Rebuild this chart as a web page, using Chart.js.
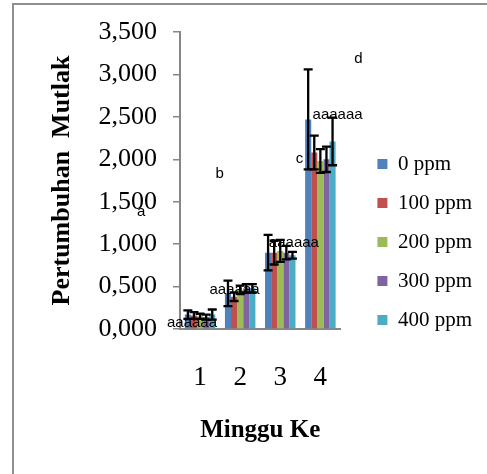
<!DOCTYPE html>
<html>
<head>
<meta charset="utf-8">
<script src="https://cdn.jsdelivr.net/npm/chart.js@4.4.1/dist/chart.umd.min.js"></script>
<style>
    body { margin: 0; background: #fff; }
    .wrap { position: relative; width: 487px; height: 474px; overflow: hidden; }
    .frame { position: absolute; left: 12px; top: 3px; width: 600px; height: 600px; border: 2px solid #8f8f8f; }
    #myChart { position: absolute; left: 0; top: 0; }
</style>
</head>
<body>
<div class="wrap">
    <div class="frame"></div>
    <canvas id="myChart" width="487" height="474"></canvas>
</div>
<script>
const minggu = ['1', '2', '3', '4'];
const seriesNames = ['0 ppm', '100 ppm', '200 ppm', '300 ppm', '400 ppm'];

const ppm0 = [0.17, 0.42, 0.90, 2.47];
const ppm100 = [0.16, 0.38, 0.90, 2.08];
const ppm200 = [0.15, 0.46, 0.92, 1.98];
const ppm300 = [0.14, 0.48, 0.90, 2.00];
const ppm400 = [0.17, 0.48, 0.87, 2.21];

// standard deviation for error bars
const sd0 = [0.05, 0.15, 0.21, 0.59];
const sd100 = [0.04, 0.05, 0.14, 0.20];
const sd200 = [0.03, 0.05, 0.13, 0.14];
const sd300 = [0.03, 0.05, 0.08, 0.15];
const sd400 = [0.06, 0.05, 0.04, 0.28];

const yTicks = [0, 0.5, 1, 1.5, 2, 2.5, 3, 3.5];

// notasi huruf (x = index kategori, y = nilai)
const notes = [
    { x: -1.47, y: 1.38, text: 'a' },
    { x: 0.49, y: 1.83, text: 'b' },
    { x: 2.48, y: 2.01, text: 'c' },
    { x: 3.95, y: 3.18, text: 'd' },
    { x: -0.2, y: 0.07, text: 'aaaaaa' },
    { x: 0.86, y: 0.46, text: 'aaaaaa' },
    { x: 2.34, y: 1.02, text: 'aaaaaa' },
    { x: 3.43, y: 2.52, text: 'aaaaaa' }
];

const values = [ppm0, ppm100, ppm200, ppm300, ppm400];
const errors = [sd0, sd100, sd200, sd300, sd400];
const colors = ['#4F81BD', '#C0504D', '#9BBB59', '#8064A2', '#4BACC6'];

const serif = "'Liberation Serif', 'Times New Roman', serif";

const notesAndErrors = {
    id: 'notesAndErrors',
    afterDatasetsDraw(chart) {
        const c = chart.ctx;
        const xs = chart.scales.x;
        const ys = chart.scales.y;
        c.save();
        c.fillStyle = '#000';
        c.font = "15px 'Liberation Sans', Arial, sans-serif";
        c.textAlign = 'center';
        c.textBaseline = 'middle';
        notes.forEach(function (n) {
            c.fillText(n.text, xs.getPixelForValue(n.x), ys.getPixelForValue(n.y));
        });

        c.strokeStyle = '#000';
        c.lineWidth = 2.3;
        for (let d = 0; d < values.length; d++) {
            const meta = chart.getDatasetMeta(d);
            for (let i = 0; i < meta.data.length; i++) {
                const x = meta.data[i].x;
                const hi = ys.getPixelForValue(values[d][i] + errors[d][i]);
                const lo = ys.getPixelForValue(values[d][i] - errors[d][i]);
                c.beginPath();
                c.moveTo(x, hi);
                c.lineTo(x, lo);
                c.moveTo(x - 4.5, hi);
                c.lineTo(x + 4.5, hi);
                c.moveTo(x - 4.5, lo);
                c.lineTo(x + 4.5, lo);
                c.stroke();
            }
        }
        c.restore();
    }
};

const ctx = document.getElementById('myChart');

new Chart(ctx, {
    type: 'bar',
    data: {
        labels: minggu,
        datasets: values.map(function (v, i) {
            return {
                label: seriesNames[i],
                data: v,
                backgroundColor: colors[i],
                borderWidth: 0,
                categoryPercentage: 0.76,
                barPercentage: 1
            };
        })
    },
    options: {
        responsive: false,
        animation: false,
        layout: {
            padding: { left: 47, top: 32, right: 5, bottom: 22 }
        },
        scales: {
            x: {
                grid: { display: false, drawTicks: false },
                border: { color: '#868686', width: 2 },
                ticks: {
                    color: '#000',
                    padding: 33,
                    font: { family: serif, size: 27 }
                },
                title: {
                    display: true,
                    text: 'Minggu Ke',
                    color: '#000',
                    font: { family: serif, size: 25, weight: 'bold' },
                    padding: { top: 0, bottom: 6 }
                },
                afterFit: function (scale) { scale.height = 123; }
            },
            y: {
                min: 0,
                max: 3.5,
                afterBuildTicks: function (scale) {
                    scale.ticks = yTicks.map(function (v) { return { value: v }; });
                },
                grid: { drawOnChartArea: false, tickLength: 7, color: '#868686', lineWidth: 1.5 },
                border: { color: '#868686', width: 2 },
                ticks: {
                    color: '#000',
                    padding: 16,
                    font: { family: serif, size: 26 },
                    callback: function (v) { return v.toFixed(3).replace('.', ','); }
                },
                title: {
                    display: true,
                    text: 'Pertumbuhan  Mutlak',
                    color: '#000',
                    font: { family: serif, size: 26, weight: 'bold' },
                    padding: { top: 0, bottom: 0 }
                },
                afterFit: function (scale) { scale.width = 133; }
            },
            spacer: {
                type: 'linear',
                position: 'right',
                grid: { display: false },
                border: { display: false },
                ticks: { display: false },
                afterFit: function (scale) { scale.width = 19; }
            }
        },
        plugins: {
            legend: {
                position: 'right',
                maxWidth: 140,
                labels: {
                    boxWidth: 10,
                    boxHeight: 10,
                    padding: 18,
                    color: '#000',
                    font: { family: serif, size: 21 }
                }
            },
            tooltip: { enabled: false }
        }
    },
    plugins: [notesAndErrors]
});
</script>
</body>
</html>
